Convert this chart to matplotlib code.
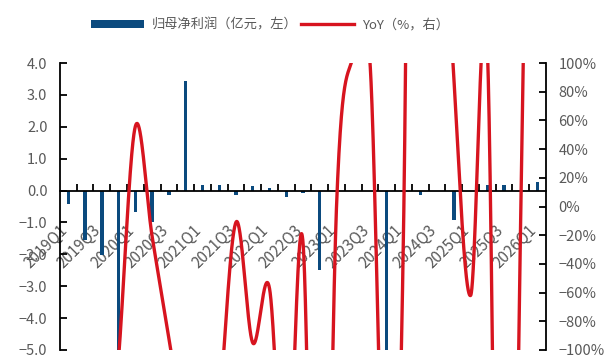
import numpy as np
import matplotlib
matplotlib.use('Agg')
import matplotlib.pyplot as plt
from matplotlib.patches import Patch
from matplotlib.lines import Line2D
from matplotlib.transforms import ScaledTranslation

plt.rcParams['font.family'] = ['Noto Sans CJK SC', 'DejaVu Sans']
plt.rcParams['axes.unicode_minus'] = True

# quarters 2019Q1 .. 2026Q1
quarters = ['2019Q1', '2019Q2', '2019Q3', '2019Q4',
            '2020Q1', '2020Q2', '2020Q3', '2020Q4',
            '2021Q1', '2021Q2', '2021Q3', '2021Q4',
            '2022Q1', '2022Q2', '2022Q3', '2022Q4',
            '2023Q1', '2023Q2', '2023Q3', '2023Q4',
            '2024Q1', '2024Q2', '2024Q3', '2024Q4',
            '2025Q1', '2025Q2', '2025Q3', '2025Q4',
            '2026Q1']
tick_labels = quarters[::2]

# 归母净利润 (亿元)
profit = [-0.41, -1.55, -2.02, -5.5, -0.67, -0.97, -0.13, 3.45,
          0.17, 0.18, -0.13, 0.13, 0.08, -0.2, -0.07, -2.5,
          0.0, 0.0, 0.0, -6.5, 0.0, -0.13, 0.0, -0.93,
          0.0, 0.18, 0.18, 0.0, 0.28]

# YoY (%)
yoy = [-150, -200, -250, -105, 56, -21, -92, -170,
       -300, -145, -11, -95, -57, -220, -25, -500,
       0, 105, 100, -260, -15, 1214, 352, 90,
       -62, 110, -662, 0, 738]


def smooth(y, n=200):
    # catmull-rom style smoothing like excel's smoothed line
    y = np.asarray(y, float)
    m = np.empty_like(y)
    m[1:-1] = (y[2:] - y[:-2]) / 2
    m[0] = y[1] - y[0]
    m[-1] = y[-1] - y[-2]
    t = np.linspace(0, 1, n, endpoint=False)
    h00 = 2*t**3 - 3*t**2 + 1
    h10 = t**3 - 2*t**2 + t
    h01 = -2*t**3 + 3*t**2
    h11 = t**3 - t**2
    xs, ys = [], []
    for i in range(len(y) - 1):
        xs.append(i + t)
        ys.append(h00*y[i] + h10*m[i] + h01*y[i+1] + h11*m[i+1])
    xs.append([len(y) - 1])
    ys.append([y[-1]])
    return np.concatenate(xs), np.concatenate(ys)


grey = '#595959'
blue = '#0b4a7e'
red = '#d7141f'

x = np.arange(len(quarters))
sx, sy = smooth(yoy)

fig = plt.figure(figsize=(6.04, 3.56), dpi=100)
ax = fig.add_axes([0.0993, 0.0169, 0.8047, 0.806])
ax.bar(x, profit, width=0.2, color=blue, zorder=2)
ax.set_xlim(-0.5, len(quarters) - 0.5)
ax.set_ylim(-5, 4)

ax2 = ax.twinx()
ax2.plot(sx, sy, color=red, lw=2.4)
ax2.set_ylim(-100, 100)

# spines
ax.spines['top'].set_visible(False)
ax.spines['right'].set_visible(False)
ax.spines['bottom'].set_position(('data', 0))
ax.spines['bottom'].set_linewidth(1.3)
ax.spines['left'].set_linewidth(1.3)
for s in ['top', 'bottom', 'left']:
    ax2.spines[s].set_visible(False)
ax2.spines['right'].set_linewidth(1.3)

# left axis
yt = np.arange(-5, 4.1, 1)
ax.set_yticks(yt)
ax.set_yticklabels(['%.1f' % v if v >= 0 else '\u2212%.1f' % -v for v in yt])
ax.tick_params(axis='y', direction='in', length=5, width=1.3, pad=9,
               labelsize=10.5, labelcolor=grey)

# right axis
rt = np.arange(-100, 101, 20)
ax2.set_yticks(rt)
ax2.set_yticklabels(['%d%%' % v if v >= 0 else '\u2212%d%%' % -v for v in rt])
ax2.tick_params(axis='y', direction='in', length=5, width=1.3, pad=9,
                labelsize=10.5, labelcolor=grey)

# x axis
ax.set_xticks(x[::2])
ax.set_xticklabels(tick_labels, rotation=45, ha='right', va='center',
                   rotation_mode='anchor')
ax.set_xticks(np.arange(0.5, len(quarters) - 1, 1), minor=True)
ax.tick_params(axis='x', which='major', length=0, pad=27,
               labelsize=11, labelcolor=grey)
ax.tick_params(axis='x', which='minor', direction='in', length=5, width=1.3)
shift = ScaledTranslation(-2.5/72, 0, fig.dpi_scale_trans)
for lab in ax.get_xticklabels():
    lab.set_transform(lab.get_transform() + shift)

handles = [Patch(facecolor=blue, edgecolor='none'),
           Line2D([], [], color=red, lw=2.4)]
labels = ['归母净利润（亿元，左）', 'YoY（%，右）']
fig.legend(handles, labels, loc='center', bbox_to_anchor=(0.447, 0.93),
           ncol=2, frameon=False, handlelength=4.0, handleheight=0.55,
           handletextpad=0.6, columnspacing=0.3, fontsize=9.5,
           labelcolor=grey)

plt.savefig('out.png', dpi=100)
